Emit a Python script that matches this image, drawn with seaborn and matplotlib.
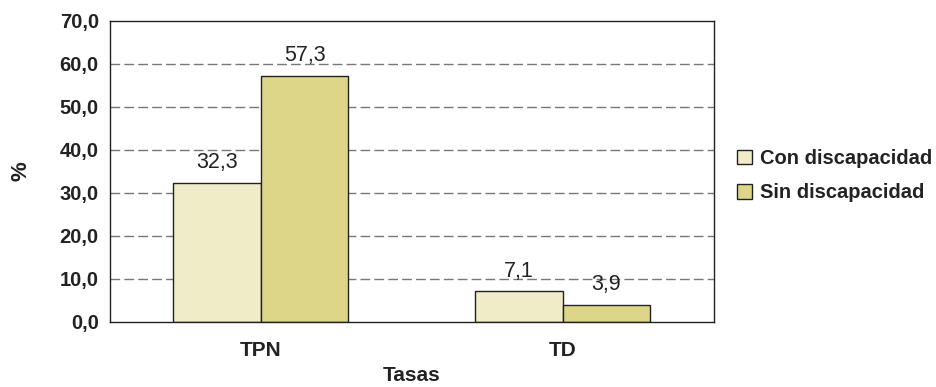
import matplotlib
matplotlib.use("Agg")
import matplotlib.pyplot as plt
import seaborn as sns
import pandas as pd
from matplotlib.ticker import FixedLocator, FuncFormatter

# ── Data ──────────────────────────────────────────────────────
categories = ["TPN", "TD"]
series_names = ["Con discapacidad", "Sin discapacidad"]
con_values = [32.3, 7.1]
sin_values = [57.3, 3.9]
y_ticks = [0, 10, 20, 30, 40, 50, 60, 70]

COLORS = {"Con discapacidad": "#F1ECC8", "Sin discapacidad": "#DDD688"}
INK = "#222222"

df = pd.DataFrame({
    "Tasas": categories * 2,
    "serie": [series_names[0]] * 2 + [series_names[1]] * 2,
    "valor": con_values + sin_values,
})

sns.set_style("white")
plt.rcParams["font.family"] = ["Liberation Sans", "DejaVu Sans"]

fig = plt.figure(figsize=(9.36, 3.87), dpi=100)
ax = fig.add_axes([0.1175, 0.168, 0.645, 0.778])

sns.barplot(data=df, x="Tasas", y="valor", hue="serie", order=categories,
            hue_order=series_names, palette=COLORS, width=0.58,
            edgecolor=INK, linewidth=1.0, saturation=1, ax=ax, legend=False)

for cont in ax.containers:
    ax.bar_label(cont, labels=[f"{v:.1f}".replace(".", ",") for v in cont.datavalues],
                 padding=7, fontsize=15.5, color=INK)

ax.set_ylim(0, 70)
ax.set_xlim(-0.5, 1.5)
ax.set_yticks(y_ticks)
ax.yaxis.set_major_formatter(FuncFormatter(lambda v, p: f"{v:.1f}".replace(".", ",")))
for t in y_ticks[1:-1]:
    ax.axhline(t, color="#777777", lw=1.0, ls=(0, (7, 3)), zorder=0)

ax.xaxis.set_minor_locator(FixedLocator([-0.5, 0.5, 1.5]))
ax.tick_params(axis="x", which="major", length=0, pad=14, labelsize=15)
ax.tick_params(axis="x", which="minor", length=6, width=1, direction="out", color=INK)
ax.tick_params(axis="y", length=5, width=1, direction="out", color=INK,
               labelsize=14.5, pad=3)
for lbl in ax.get_xticklabels() + ax.get_yticklabels():
    lbl.set_fontweight("bold")
    lbl.set_color(INK)

for s in ax.spines.values():
    s.set_color(INK)
    s.set_linewidth(1.0)

ax.set_xlabel("Tasas", fontsize=15, fontweight="bold", color=INK, labelpad=4)
ax.set_ylabel("%", fontsize=16, fontweight="bold", color=INK, labelpad=20)

handles = [plt.Rectangle((0, 0), 1, 1, facecolor=COLORS[n], edgecolor=INK, lw=1.0)
           for n in series_names]
fig.legend(handles, series_names, loc="center left", bbox_to_anchor=(0.787, 0.546),
           frameon=False, prop={"weight": "bold", "size": 14.5}, handlelength=0.75,
           handleheight=0.75, handletextpad=0.4, labelspacing=0.75, labelcolor=INK,
           borderaxespad=0, borderpad=0)

plt.savefig("out.png", dpi=100)
plt.close()
